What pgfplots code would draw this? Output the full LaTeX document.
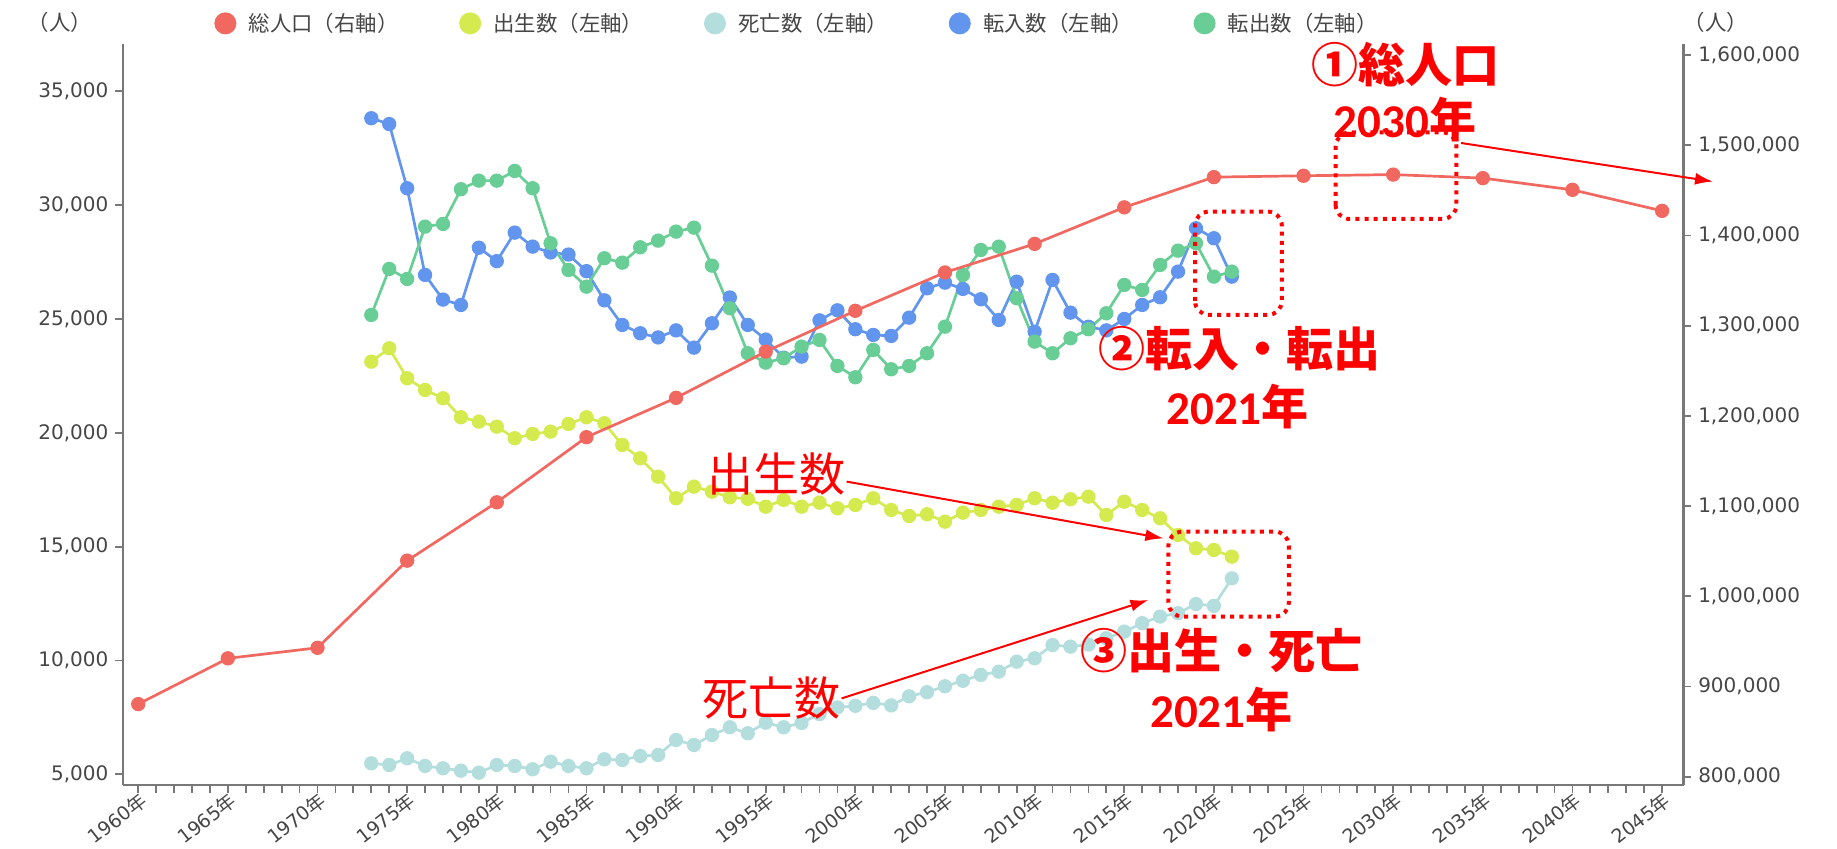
\documentclass[border=0pt]{standalone}
\usepackage{pgfplots}
\pgfplotsset{compat=1.18}
\usepackage{pgfplotstable}
\usepackage{fontspec}
\setmainfont{DejaVu Sans}
\newfontfamily\cjk{Noto Sans CJK JP}
\newfontfamily\carl{Carlito}
\usetikzlibrary{arrows.meta}

\definecolor{cpop}{RGB}{240,104,96}
\definecolor{cbirth}{RGB}{212,234,78}
\definecolor{cdeath}{RGB}{180,222,222}
\definecolor{cin}{RGB}{98,150,238}
\definecolor{cout}{RGB}{104,206,150}
\definecolor{axc}{RGB}{120,120,120}
\definecolor{txc}{RGB}{70,70,70}
\definecolor{ared}{RGB}{255,0,0}

\pgfplotstableread{
year pop
1960 880500
1965 931200
1970 942900
1975 1039500
1980 1104200
1985 1176400
1990 1220000
1995 1271300
2000 1316500
2005 1359000
2010 1390700
2015 1431200
2020 1464700
2025 1466200
2030 1467500
2035 1463600
2040 1450600
2045 1427300
}\poptable

\pgfplotstableread{
year birth death inm outm
1973 23126 5487 33815 25177
1974 23714 5413 33560 27197
1975 22397 5707 30741 26757
1976 21883 5369 26934 29056
1977 21518 5268 25850 29174
1978 20684 5163 25616 30698
1979 20491 5075 28130 31075
1980 20271 5413 27540 31075
1981 19762 5369 28792 31501
1982 19951 5224 28177 30741
1983 20052 5558 27920 28325
1984 20390 5369 27830 27153
1985 20684 5268 27100 26419
1986 20421 5663 25820 27667
1987 19467 5632 24738 27474
1988 18883 5808 24373 28150
1989 18075 5852 24190 28440
1990 17126 6511 24500 28836
1991 17636 6291 23741 29011
1992 17416 6730 24812 27342
1993 17170 7068 25945 25471
1994 17100 6805 24738 23495
1995 16757 7271 24095 23082
1996 17052 7068 23300 23275
1997 16757 7260 23346 23785
1998 16933 7650 24940 24079
1999 16687 7940 25380 22937
2000 16832 8010 24549 22440
2001 17126 8140 24299 23640
2002 16612 8030 24255 22792
2003 16349 8430 25058 22937
2004 16424 8610 26349 23495
2005 16099 8870 26595 24663
2006 16494 9110 26319 26934
2007 16612 9370 25867 28031
2008 16757 9510 24957 28177
2009 16832 9950 26639 25911
2010 17126 10100 24443 24005
2011 16933 10680 26714 23495
2012 17082 10610 25278 24153
2013 17196 10700 24660 24549
2014 16393 10980 24500 25251
2015 16977 11270 25000 26494
2016 16612 11640 25616 26275
2017 16247 11930 25954 27372
2018 15514 12080 27079 28000
2019 14930 12480 28985 28325
2020 14855 12400 28546 26859
2021 14561 13610 26859 27079
}\lefttable

\tikzset{ser/.style={color=#1, line width=1.35pt, mark=*, mark size=2.9pt, mark options={solid, fill=#1, draw=#1}}}

\pgfplotsset{
  common/.style={
    at={(61.5pt,32pt)}, anchor=south west, scale only axis,
    width=780.3pt, height=370.25pt,
    xmin=1959.15, xmax=2046.2,
    axis line style={-, axc, line width=1.2pt},
    tick style={axc, line width=0.9pt},
    tick align=outside, major tick length=3.8pt, minor tick length=3.8pt,
    scaled y ticks=false,
    yticklabel style={font=\fontsize{10}{12}\selectfont, text=txc},
  }
}

\begin{document}
\begin{tikzpicture}[x=1pt,y=1pt]
\useasboundingbox (0,0) rectangle (918.5,424.5);
\begin{axis}[common,
  ymin=4534, ymax=37055,
  axis x line*=bottom, axis y line*=left,
  xtick={1960,1965,1970,1975,1980,1985,1990,1995,2000,2005,2010,2015,2020,2025,2030,2035,2040,2045},
  minor x tick num=4,
  xticklabels={1960{\cjk 年},1965{\cjk 年},1970{\cjk 年},1975{\cjk 年},1980{\cjk 年},1985{\cjk 年},1990{\cjk 年},1995{\cjk 年},2000{\cjk 年},2005{\cjk 年},2010{\cjk 年},2015{\cjk 年},2020{\cjk 年},2025{\cjk 年},2030{\cjk 年},2035{\cjk 年},2040{\cjk 年},2045{\cjk 年}},
  xticklabel style={rotate=38, anchor=north east, font=\fontsize{9.5}{10}\selectfont, text=txc, inner sep=0.3pt, yshift=1.2pt, xshift=1pt},
  ytick={5000,10000,15000,20000,25000,30000,35000},
  yticklabels={{5,000},{10,000},{15,000},{20,000},{25,000},{30,000},{35,000}},
  legend columns=5,
  legend image code/.code={\fill[#1,draw=none] (0pt,0pt) circle (5.5pt);},
  legend style={at={(axis description cs:0.0583,1.0285)}, anchor=west, draw=none, fill=none, inner sep=0pt,
    font=\cjk\fontsize{10.7}{12}\selectfont, text=txc, nodes={inner sep=0pt},
    /tikz/every odd column/.style={column sep=6.2pt},
    /tikz/every even column/.style={column sep=30.3pt}},
]
\addlegendimage{ser=cpop}
\addlegendentry{総人口（右軸）}
\addplot[ser=cbirth] table[x=year,y=birth]{\lefttable};
\addlegendentry{出生数（左軸）}
\addplot[ser=cdeath] table[x=year,y=death]{\lefttable};
\addlegendentry{死亡数（左軸）}
\addplot[ser=cin] table[x=year,y=inm]{\lefttable};
\addlegendentry{転入数（左軸）}
\addplot[ser=cout] table[x=year,y=outm]{\lefttable};
\addlegendentry{転出数（左軸）}
\end{axis}
\begin{axis}[common,
  ymin=790800, ymax=1611750,
  axis x line=none, axis y line*=right,
  ytick={800000,900000,1000000,1100000,1200000,1300000,1400000,1500000,1600000},
  yticklabels={{800,000},{900,000},{1,000,000},{1,100,000},{1,200,000},{1,300,000},{1,400,000},{1,500,000},{1,600,000}},
]
\addplot[ser=cpop] table[x=year,y=pop]{\poptable};
\end{axis}

% unit labels
\node[text=txc, font=\cjk\fontsize{10.7}{12}\selectfont] at (30,413.4) {（人）};
\node[text=txc, font=\cjk\fontsize{10.7}{12}\selectfont] at (858,413.4) {（人）};

% annotation 1
\node[text=ared, font=\cjk\bfseries\fontsize{23.5}{26}\selectfont] at (702.5,392.2) {①総人口};
\node[text=ared, font=\fontsize{23.5}{26}\selectfont] at (702.5,364.5) {{\carl\bfseries 2030}{\cjk\bfseries 年}};
\draw[ared, line width=2pt, dash pattern=on 2pt off 2.6pt, rounded corners=7pt] (667.8,315) rectangle (728.2,358.3);
\draw[ared, line width=1pt, -{Latex[length=9pt,width=6pt]}] (730.5,353) -- (856.5,333.7);

% annotation 2
\draw[ared, line width=2pt, dash pattern=on 2pt off 2.6pt, rounded corners=7pt] (597.5,267) rectangle (640.9,318.7);
\node[text=ared, font=\cjk\bfseries\fontsize{23.5}{26}\selectfont] at (619.5,250.3) {②転入・転出};
\node[text=ared, font=\fontsize{23.5}{26}\selectfont] at (618.8,221.2) {{\carl\bfseries 2021}{\cjk\bfseries 年}};

% annotation 3
\draw[ared, line width=2pt, dash pattern=on 2pt off 2.6pt, rounded corners=7pt] (584.2,116.2) rectangle (644.4,158.7);
\node[text=ared, font=\cjk\bfseries\fontsize{23.5}{26}\selectfont] at (610.7,99.1) {③出生・死亡};
\node[text=ared, font=\fontsize{23.5}{26}\selectfont] at (610.7,69.5) {{\carl\bfseries 2021}{\cjk\bfseries 年}};

% labels with arrows
\node[text=ared, font=\cjk\fontsize{23}{26}\selectfont] at (388.2,187.5) {出生数};
\draw[ared, line width=1pt, -{Latex[length=9pt,width=6pt]}] (423.3,183.7) -- (581.7,155.3);
\node[text=ared, font=\cjk\fontsize{23}{26}\selectfont] at (385.5,75.3) {死亡数};
\draw[ared, line width=1pt, -{Latex[length=9pt,width=6pt]}] (420.8,75.3) -- (574.2,124.5);
\end{tikzpicture}
\end{document}
